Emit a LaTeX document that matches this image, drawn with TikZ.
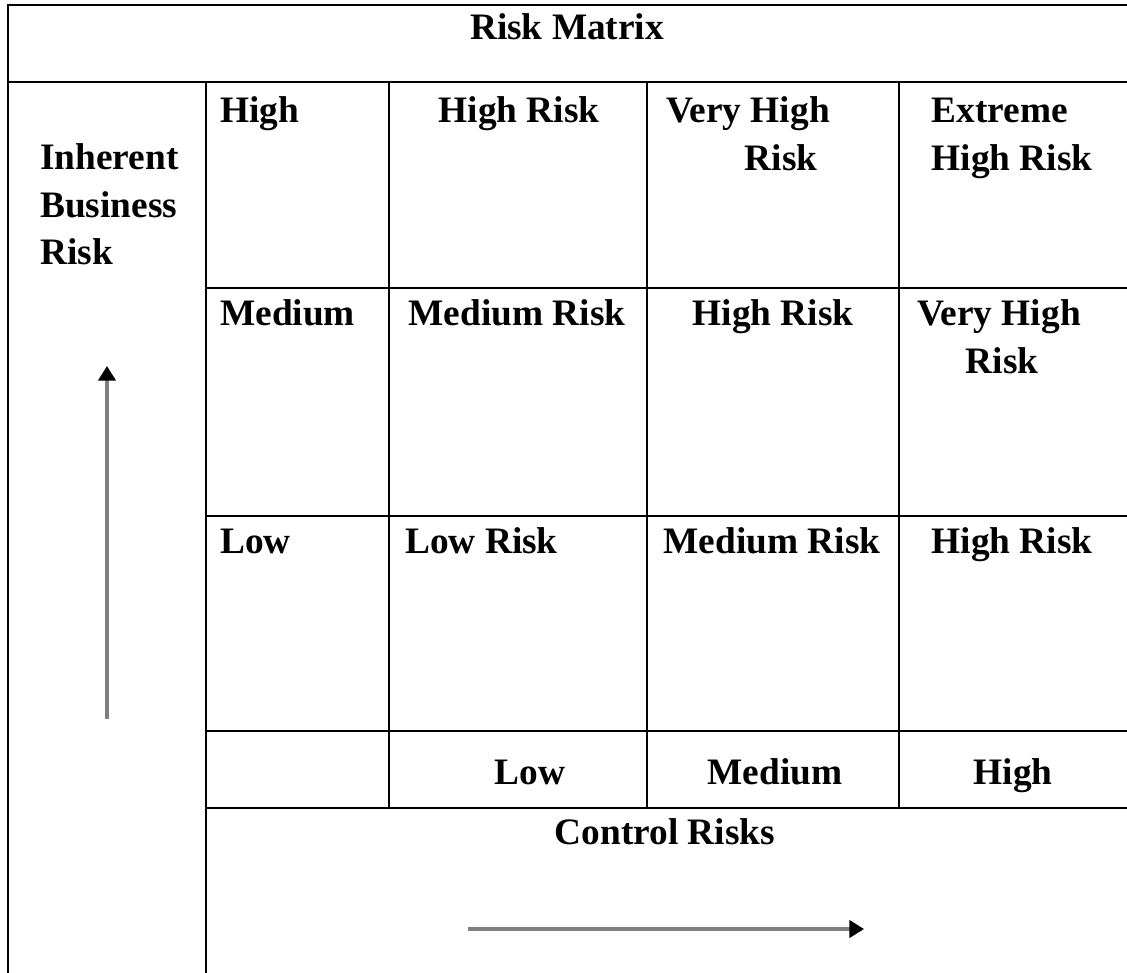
\documentclass[tikz,border=0pt]{standalone}
\usepackage{fontspec}
\setmainfont{Liberation Serif}
\usetikzlibrary{arrows.meta}
\begin{document}
\begin{tikzpicture}[x=0.75pt,y=-0.75pt,
  grid/.style={line width=2.1pt,black,line cap=rect},
  lbl/.style={inner sep=0pt,anchor=base,font=\fontsize{28}{34}\selectfont\bfseries},
  lbll/.style={lbl,anchor=base west},
  axis/.style={line width=2.4pt,draw=black!50,-{Triangle[width=13pt,length=11pt,color=black,fill=black]}}]
\useasboundingbox (0,0) rectangle (1127,972);
% grid
\draw[grid] (8,972) -- (8,5) -- (1127,5);
\draw[grid] (8,82) -- (1127,82);
\draw[grid] (206,82) -- (206,972);
\foreach \yy in {288,516,731,808} \draw[grid] (206,\yy) -- (1127,\yy);
\foreach \xx in {389,647,899} \draw[grid] (\xx,82) -- (\xx,808);
% title
\node[lbl] (title) at (567,39) {Risk Matrix};
% left label
\node[lbll] (ibr1) at (40,169) {Inherent};
\node[lbll] (ibr2) at (40,217) {Business};
\node[lbll] (ibr3) at (40,264) {Risk};
% row labels
\node[lbll] (rh) at (220,122) {High};
\node[lbll] (rm) at (220,325) {Medium};
\node[lbll] (rl) at (220,553) {Low};
% row 1
\node[lbl] (c11) at (519,122) {High Risk};
\node[lbl] (c12a) at (748,122) {Very High};
\node[lbl] (c12b) at (781,170) {Risk};
\node[lbl] (c13a) at (1000,122) {Extreme};
\node[lbl] (c13b) at (1012,170) {High Risk};
% row 2
\node[lbl] (c21) at (517,325) {Medium Risk};
\node[lbl] (c22) at (773,325) {High Risk};
\node[lbl] (c23a) at (999,325) {Very High};
\node[lbl] (c23b) at (1002,373) {Risk};
% row 3
\node[lbll] (c31) at (405,553) {Low Risk};
\node[lbl] (c32) at (772,553) {Medium Risk};
\node[lbl] (c33) at (1012,553) {High Risk};
% column labels
\node[lbl] (cl) at (530,784) {Low};
\node[lbl] (cm) at (775,784) {Medium};
\node[lbl] (ch) at (1013,784) {High};
\node[lbl] (ctrl) at (665,844) {Control Risks};
% arrows
\coordinate (va) at (107,719);
\coordinate (vb) at (107,366);
\coordinate (ha) at (468,929);
\coordinate (hb) at (864,929);
\draw[axis] (va) -- (vb);
\draw[axis] (ha) -- (hb);
\end{tikzpicture}
\end{document}
